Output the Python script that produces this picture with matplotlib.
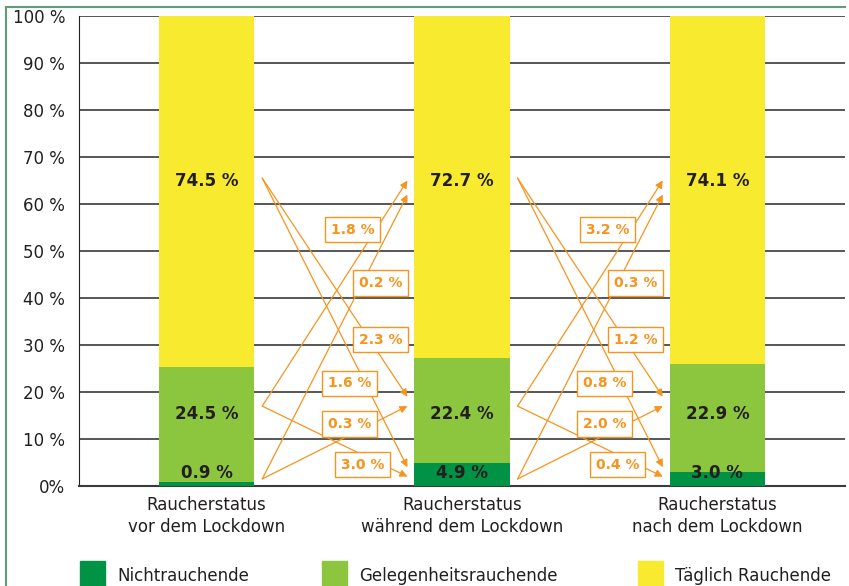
import matplotlib.pyplot as plt
from matplotlib.patches import Rectangle
from matplotlib.lines import Line2D

categories = ["Raucherstatus\nvor dem Lockdown",
              "Raucherstatus\nwährend dem Lockdown",
              "Raucherstatus\nnach dem Lockdown"]
series = ["Nichtrauchende", "Gelegenheitsrauchende", "Täglich Rauchende"]
nicht = [0.9, 4.9, 3.0]
gelegentlich = [24.5, 22.4, 22.9]
taeglich = [74.5, 72.7, 74.1]
values = [nicht, gelegentlich, taeglich]

# transitions (von, nach, Prozent) fuer beide Zeitabschnitte
trans_1 = [(1, 2, 1.8), (0, 2, 0.2), (2, 1, 2.3), (2, 0, 1.6), (0, 1, 0.3), (1, 0, 3.0)]
trans_2 = [(1, 2, 3.2), (0, 2, 0.3), (2, 1, 1.2), (2, 0, 0.8), (0, 1, 2.0), (1, 0, 0.4)]

colors = ["#009245", "#8CC63F", "#F7EA2F"]
orange = "#F7941D"
dark = "#231F20"
plt.rcParams['font.family'] = ['DejaVu Sans']

fig = plt.figure(figsize=(8.49, 5.86), dpi=100)
ax = fig.add_axes([79/849, 1-486/586, (845-79)/849, (486-16)/586])

width = 95/255
x = range(len(categories))
bottom = [0, 0, 0]
for vals, c, name in zip(values, colors, series):
    ax.bar(x, vals, width, bottom=bottom, color=c, zorder=3, label=name)
    bottom = [b + v for b, v in zip(bottom, vals)]

# value labels inside bars
label_y = [2.8, 15.3, 65.0]
for vals, ly in zip(values, label_y):
    for i, v in enumerate(vals):
        ax.text(i, ly, f"{v:.1f} %", ha="center", va="center", fontsize=12,
                fontweight="bold", color=dark, zorder=5)

# arrow anchors (y in %) per group
src_y = {2: 65.5, 1: 17.0, 0: 1.5}
dst_y = {(1, 2): 65.0, (0, 2): 62.0, (2, 1): 19.0, (0, 1): 17.0, (2, 0): 4.0, (1, 0): 2.0}
lab_pos = {(1, 2): (90, 54.5), (0, 2): (118, 43.2), (2, 1): (118, 31.1),
           (2, 0): (87, 21.9), (0, 1): (87, 13.2), (1, 0): (100, 4.5)}
for g, trans in enumerate([trans_1, trans_2]):
    x0 = g + width/2 + 8/255
    x1 = g + 1 - width/2 - 7/255
    for a, b, p in trans:
        ax.annotate("", xy=(x1, dst_y[(a, b)]), xytext=(x0, src_y[a]),
                    arrowprops=dict(arrowstyle="-|>", color=orange, lw=0.9,
                                    mutation_scale=11, shrinkA=0, shrinkB=0),
                    zorder=4)
        dx, ly = lab_pos[(a, b)]
        ax.text(x0 + dx/255, ly, f"{p:.1f} %", ha="center", va="center",
                fontsize=10, color=orange, fontweight="bold", zorder=6,
                bbox=dict(boxstyle="square,pad=0.4", fc="white", ec=orange, lw=1))

ax.set_xlim(-0.5, 2.5)
ax.set_ylim(0, 100)
ax.set_yticks(range(0, 101, 10))
ax.set_yticklabels(["0%"] + [f"{t} %" for t in range(10, 101, 10)], fontsize=12, color=dark)
ax.set_xticks(list(x))
ax.set_xticklabels(categories, fontsize=12, color=dark, linespacing=1.3)
ax.tick_params(length=0, pad=10)
ax.tick_params(axis="x", pad=7)
ax.grid(axis="y", color="#3a3a3a", lw=1.2, zorder=0)
for s in ["top", "right"]:
    ax.spines[s].set_visible(False)
ax.spines["left"].set_color(dark)
ax.spines["bottom"].set_color("#3a3a3a")
ax.spines["bottom"].set_linewidth(1.5)

# green frame
fig.add_artist(Line2D([6/849, 6/849], [0, 1-7/586], color="#5E9C7C", lw=1.5))
fig.add_artist(Line2D([6/849, 845/849], [1-7/586, 1-7/586], color="#5E9C7C", lw=1.5))

# legend
leg_x = [80, 322, 638]
for lx, name, c in zip(leg_x, series, colors):
    fig.add_artist(Rectangle((lx/849, 0), 25/849, 25/586, color=c, transform=fig.transFigure))
    fig.text((lx + 37)/849, 1-576/586, name, fontsize=12, color=dark, va="center")

fig.savefig("out.png")
